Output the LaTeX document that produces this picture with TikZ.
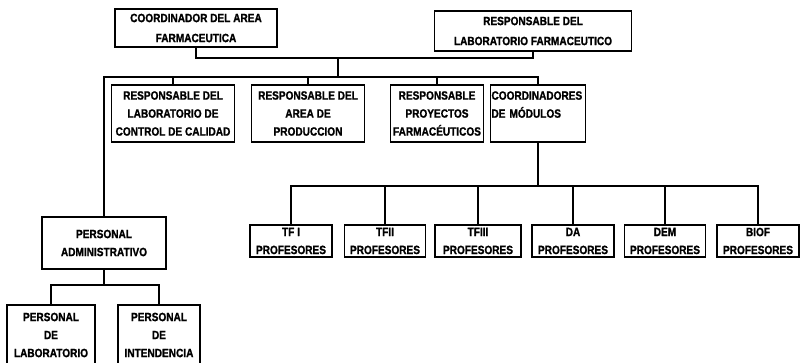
\documentclass[tikz,border=0pt]{standalone}
\usepackage{fontspec}
\setmainfont{Liberation Sans}[FakeStretch=0.84, BoldFeatures={FakeBold=1.2}]
\begin{document}
\begin{tikzpicture}[x=1pt,y=-1pt,
  box/.style={draw=black, line width=1.5pt, inner sep=0pt, align=center,
    font=\fontsize{12}{18}\selectfont\bfseries},
  conn/.style={draw=black, line width=2pt}]
\useasboundingbox (0,0) rectangle (801,363);
\fill[white] (0,0) rectangle (801,363);
% top
\node[box, minimum width=162pt, minimum height=38pt, font=\fontsize{12}{20}\selectfont\bfseries] (b1) at (196,28) {COORDINADOR DEL AREA\\FARMACEUTICA};
\node[box, minimum width=197pt, minimum height=40pt, font=\fontsize{12}{20}\selectfont\bfseries] (b2) at (533,31) {RESPONSABLE DEL\\LABORATORIO FARMACEUTICO};
% row 2
\node[box, minimum width=123pt, minimum height=57pt] (rA) at (173,113.5) {RESPONSABLE DEL\\LABORATORIO DE\\CONTROL DE CALIDAD};
\node[box, minimum width=113pt, minimum height=57pt] (rB) at (308,113.5) {RESPONSABLE DEL\\AREA DE\\PRODUCCION};
\node[box, minimum width=93pt, minimum height=57pt] (rC) at (437,113.5) {RESPONSABLE\\PROYECTOS\\FARMACÉUTICOS};
\node[box, minimum width=95pt, minimum height=57pt, align=left, text width=93pt] (rD) at (538,113.5) {COORDINADORES\\DE MÓDULOS\\~};
% row 3
\node[box, minimum width=82pt, minimum height=32pt] (p1) at (291,241) {TF I\\PROFESORES};
\node[box, minimum width=81pt, minimum height=32pt] (p2) at (385,241) {TFII\\PROFESORES};
\node[box, minimum width=86pt, minimum height=32pt] (p3) at (478,241) {TFIII\\PROFESORES};
\node[box, minimum width=82pt, minimum height=32pt] (p4) at (573,241) {DA\\PROFESORES};
\node[box, minimum width=81pt, minimum height=32pt] (p5) at (665,241) {DEM\\PROFESORES};
\node[box, minimum width=82pt, minimum height=32pt] (p6) at (758,241) {BIOF\\PROFESORES};
% admin
\node[box, minimum width=124pt, minimum height=52pt] (adm) at (104,243) {PERSONAL\\ADMINISTRATIVO};
\node[box, minimum width=88pt, minimum height=60pt] (lab) at (51,335) {PERSONAL\\DE\\LABORATORIO};
\node[box, minimum width=82pt, minimum height=60pt] (int) at (159,335) {PERSONAL\\DE\\INTENDENCIA};
% junctions
\coordinate (j1) at (338,58);
\coordinate (j2) at (338,77);
\coordinate (j3) at (538,186);
\coordinate (j4) at (104,285);
% connectors
\draw[conn] (b1.south) |- (j1) -| (b2.south);
\draw[conn] (j1) -- (j2);
\draw[conn] (adm.north) |- (j2);
\draw[conn] (j2) -| (rA.north);
\draw[conn] (j2) -| (rB.north);
\draw[conn] (j2) -| (rC.north);
\draw[conn] (j2) -| (rD.north);
\draw[conn] (rD.south) -- (j3);
\draw[conn] (j3) -| (p1.north);
\draw[conn] (j3) -| (p2.north);
\draw[conn] (j3) -| (p3.north);
\draw[conn] (j3) -| (p4.north);
\draw[conn] (j3) -| (p5.north);
\draw[conn] (j3) -| (p6.north);
\draw[conn] (adm.south) -- (j4);
\draw[conn] (j4) -| (lab.north);
\draw[conn] (j4) -| (int.north);
\end{tikzpicture}
\end{document}
